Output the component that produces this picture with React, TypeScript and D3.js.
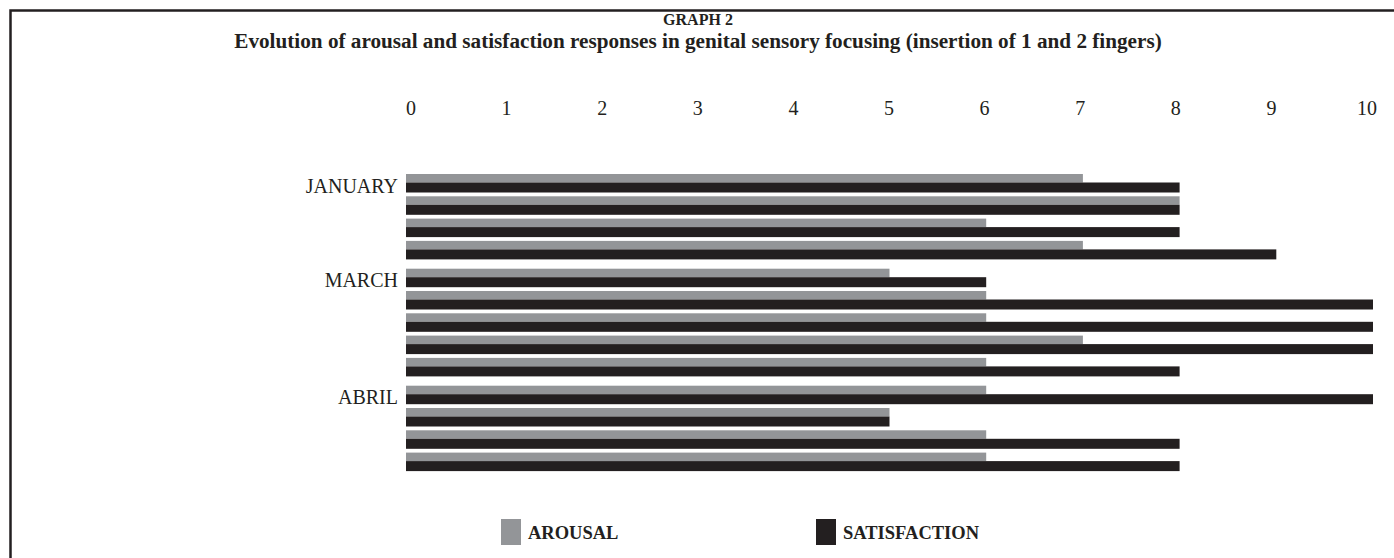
import React from "react";
import * as d3 from "d3";

const months = ["JANUARY", "MARCH", "ABRIL"];
const groupSizes = [4, 5, 4];
const arousal = [7, 8, 6, 7, 5, 6, 6, 7, 6, 6, 5, 6, 6];
const satisfaction = [8, 8, 8, 9, 6, 10, 10, 10, 8, 10, 5, 8, 8];
const ticks = [0, 1, 2, 3, 4, 5, 6, 7, 8, 9, 10];
const seriesNames = ["AROUSAL", "SATISFACTION"];
const colors = ["#939598", "#231f20"];

const W = 1394;
const H = 558;
const FONT = "'Liberation Serif', 'Times New Roman', serif";

export default function App() {
  const x = d3.scaleLinear().domain([0, 10]).range([406, 1373]);
  const xLabel = d3.scaleLinear().domain([0, 10]).range([411, 1367]);
  const rowGroup: number[] = [];
  groupSizes.forEach((n, g) => {
    for (let i = 0; i < n; i++) rowGroup.push(g);
  });
  const rows = d3.range(arousal.length);
  const step = 22.3;
  const gap = 5.5;
  const y = d3
    .scaleBand<number>()
    .domain(rows)
    .range([174, 174 + step * rows.length])
    .paddingInner(0);
  const rowTop = (i: number) => (y(i) as number) + rowGroup[i] * gap;
  const grayH = 8.5;
  const blackH = 10;
  const firstRow = groupSizes.map((_, g) => rowGroup.indexOf(g));

  return (
    <div style={{ position: "absolute", left: 0, top: 0 }}>
      <svg width={W} height={H} style={{ display: "block" }} fontFamily={FONT}>
        <rect x={0} y={0} width={W} height={H} fill="#fff" />
        <path d={`M10.5,${H + 5} L10.5,10.5 L${W + 5},10.5`} fill="none" stroke="#231f20" strokeWidth={2.5} />
        <text x={698} y={25} textAnchor="middle" fontWeight="bold" fontSize={16} fill="#231f20">
          GRAPH 2
        </text>
        <text x={698} y={48} textAnchor="middle" fontWeight="bold" fontSize={21.2} fill="#231f20">
          Evolution of arousal and satisfaction responses in genital sensory focusing (insertion of 1 and 2 fingers)
        </text>
        {ticks.map((t) => (
          <text key={t} x={xLabel(t)} y={115} textAnchor="middle" fontSize={20} fill="#231f20">
            {t}
          </text>
        ))}
        {rows.map((i) => (
          <g key={i}>
            <rect x={x(0)} y={rowTop(i)} width={x(arousal[i]) - x(0)} height={grayH} fill={colors[0]} />
            <rect x={x(0)} y={rowTop(i) + grayH} width={x(satisfaction[i]) - x(0)} height={blackH} fill={colors[1]} />
          </g>
        ))}
        {months.map((m, g) => (
          <text key={m} x={398} y={rowTop(firstRow[g]) + grayH + blackH} textAnchor="end" fontSize={20} fill="#231f20">
            {m}
          </text>
        ))}
        {seriesNames.map((s, k) => {
          const lx = [501, 816][k];
          return (
            <g key={s}>
              <rect x={lx} y={519} width={20} height={26} fill={colors[k]} />
              <text x={lx + 27} y={539} fontWeight="bold" fontSize={18.5} fill="#231f20">
                {s}
              </text>
            </g>
          );
        })}
      </svg>
    </div>
  );
}
